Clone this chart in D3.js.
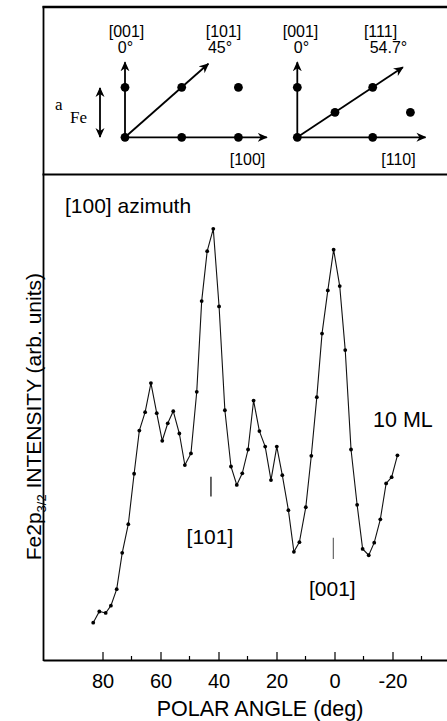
<!DOCTYPE html>
<html>
<head>
<meta charset="utf-8">
<script src="https://cdn.jsdelivr.net/npm/d3@7"></script>
<style>
  html, body { margin: 0; padding: 0; background: #fff; }
  svg { display: block; font-family: Arial, "Liberation Sans", Helvetica, sans-serif; }
</style>
</head>
<body>
<article></article>
<script>
  // Data
  // polar angle of each measured point (deg), from high to low angle
  const polarAngles = [
    83.2, 81.1, 78.9, 77.1, 75.1, 73.2, 71.1, 69.1, 67.3, 65.3,
    63.3, 61.3, 59.4, 57.5, 55.6, 53.5, 51.6, 49.5, 47.5, 45.8,
    43.9, 41.8, 39.8, 37.8, 35.7, 33.7, 31.8, 29.8, 27.9, 25.9,
    23.9, 21.9, 19.9, 18.0, 15.9, 14.0, 12.1, 9.9, 8.0, 6.1,
    4.3, 2.3, 0.3, -1.8, -3.7, -5.7, -7.8, -9.7, -11.8, -13.7,
    -15.8, -17.8, -19.7, -21.7
  ];
  // Fe2p3/2 intensity (arb. units)
  const intensities = [
    7.7, 10.0, 9.7, 11.2, 14.6, 22.1, 28.0, 38.4, 47.3, 51.1,
    57.1, 50.9, 45.2, 48.8, 51.3, 46.7, 40.2, 42.6, 55.3, 74.0,
    84.3, 88.9, 72.9, 51.5, 39.9, 36.1, 38.5, 43.4, 53.5, 47.2,
    44.0, 37.1, 44.0, 38.1, 30.9, 22.3, 24.3, 31.5, 42.1, 54.2,
    67.3, 76.2, 84.6, 77.1, 63.9, 43.4, 32.0, 22.9, 21.6, 24.2,
    29.0, 36.4, 37.7, 42.2
  ];
  const xTicks = [80, 60, 40, 20, 0, -20];
  const xMinorTicks = [70, 50, 30, 10, -10, -30];

  // crystal directions marked under the curve
  const dirLabels = ['[101]', '[001]'];
  const dirAngles = [42.6, 0.4];
  const dirMarkTop = [37.8, 25.2];
  const dirMarkBottom = [33.7, 20.8];

  // inset lattice sketches, in lattice units
  const bccDots = [[0, 0], [1, 0], [2, 0], [0, 1], [1, 1], [2, 1]];
  const bccArrows = [[0, 1.5], [2.5, 0], [1.47, 1.47]];
  const diagDots = [[0, 0], [2, 0], [0, 2], [1, 1], [2, 2], [3, 1]];
  const diagArrows = [[0, 3], [3.4, 0], [2.8, 2.8]];

  window.addEventListener('DOMContentLoaded', () => {
    const WIDTH = 447;
    const HEIGHT = 721;
    const LEFT = 43.5;
    const AXIS_Y = 660;
    const PLOT_TOP = 175;

    const svg = d3
      .select('article')
      .append('svg')
      .attr('width', WIDTH)
      .attr('height', HEIGHT)
      .attr('viewBox', `0 0 ${WIDTH} ${HEIGHT}`);

    svg
      .append('defs')
      .append('marker')
      .attr('id', 'head')
      .attr('viewBox', '0 0 10 10')
      .attr('refX', 9)
      .attr('refY', 5)
      .attr('markerWidth', 10)
      .attr('markerHeight', 10)
      .attr('markerUnits', 'userSpaceOnUse')
      .attr('orient', 'auto-start-reverse')
      .append('path')
      .attr('d', 'M0,0.5 L10,5 L0,9.5 L3,5 Z')
      .attr('fill', '#000');

    // scales
    const x = d3.scaleLinear().domain([100, -40]).range([44.5, 450.5]);
    const y = d3.scaleLinear().domain([0, 100]).range([AXIS_Y, PLOT_TOP]);

    // frame
    svg.append('line')
      .attr('x1', LEFT - 1).attr('x2', WIDTH).attr('y1', 7).attr('y2', 7)
      .attr('stroke', '#000').attr('stroke-width', 2.4);
    svg.append('line')
      .attr('x1', LEFT - 1).attr('x2', WIDTH).attr('y1', 174.5).attr('y2', 174.5)
      .attr('stroke', '#000').attr('stroke-width', 2);
    svg.append('line')
      .attr('x1', LEFT).attr('x2', LEFT).attr('y1', 6).attr('y2', AXIS_Y + 1)
      .attr('stroke', '#000').attr('stroke-width', 1.8);

    // x axis
    const xAxis = svg
      .append('g')
      .attr('transform', `translate(0,${AXIS_Y})`)
      .call(
        d3.axisBottom(x)
          .tickValues(xTicks)
          .tickSizeInner(-8)
          .tickSizeOuter(0)
          .tickPadding(14)
          .tickFormat((d) => String(d))
      );
    xAxis.select('.domain').attr('d', `M${LEFT},0.5H${WIDTH}`).attr('stroke-width', 1.8);
    xAxis.selectAll('.tick line').attr('stroke-width', 1.2);
    xAxis.selectAll('.tick text')
      .attr('font-size', 20)
      .attr('font-family', 'Arial, "Liberation Sans", sans-serif')
      .attr('fill', '#000')
      .attr('dy', '0.72em');

    svg.append('g')
      .selectAll('line')
      .data(xMinorTicks)
      .join('line')
      .attr('x1', (d) => x(d)).attr('x2', (d) => x(d))
      .attr('y1', AXIS_Y).attr('y2', AXIS_Y - 4)
      .attr('stroke', '#000').attr('stroke-width', 1.2);

    svg.append('text')
      .attr('x', 260).attr('y', 716)
      .attr('text-anchor', 'middle')
      .attr('font-size', 21.5)
      .text('POLAR ANGLE (deg)');

    // y label
    const yLabel = svg.append('text')
      .attr('transform', 'translate(41,273) rotate(-90)')
      .attr('text-anchor', 'end')
      .attr('font-size', 21);
    yLabel.append('tspan').text('Fe2p');
    yLabel.append('tspan').attr('font-size', 13).attr('dy', 5).text('3/2');
    yLabel.append('tspan').attr('dy', -5).text(' INTENSITY (arb. units)');

    // curve
    const points = polarAngles.map((a, i) => [a, intensities[i]]);
    const line = d3.line().x((d) => x(d[0])).y((d) => y(d[1]));

    svg.append('path')
      .datum(points)
      .attr('d', line)
      .attr('fill', 'none')
      .attr('stroke', '#111')
      .attr('stroke-width', 1.1);

    svg.append('g')
      .selectAll('circle')
      .data(points)
      .join('circle')
      .attr('cx', (d) => x(d[0]))
      .attr('cy', (d) => y(d[1]))
      .attr('r', 1.9)
      .attr('fill', '#000');

    // direction marks
    const labelGap = [47, 37];
    const marks = svg.append('g')
      .selectAll('g')
      .data(dirLabels.map((l, i) => ({ label: l, angle: dirAngles[i], top: dirMarkTop[i], bottom: dirMarkBottom[i] })))
      .join('g');
    marks.append('line')
      .attr('x1', (d) => x(d.angle)).attr('x2', (d) => x(d.angle))
      .attr('y1', (d) => y(d.top)).attr('y2', (d) => y(d.bottom))
      .attr('stroke', (d, i) => (i === 0 ? '#000' : '#666'))
      .attr('stroke-width', 1.2);
    marks.append('text')
      .attr('x', (d) => x(d.angle) - 1)
      .attr('y', (d, i) => y(d.bottom) + labelGap[i])
      .attr('text-anchor', 'middle')
      .attr('font-size', 21)
      .text((d) => d.label);

    svg.append('text')
      .attr('x', 65).attr('y', 213)
      .attr('font-size', 21)
      .text('[100] azimuth');

    svg.append('text')
      .attr('x', 373).attr('y', 427)
      .attr('font-size', 21.5)
      .text('10 ML');

    // inset: lattice sketches
    function sketch(dots, arrows, sx, sy) {
      const g = svg.append('g');
      g.selectAll('line')
        .data(arrows)
        .join('line')
        .attr('x1', sx(0)).attr('y1', sy(0))
        .attr('x2', (d) => sx(d[0])).attr('y2', (d) => sy(d[1]))
        .attr('stroke', '#000')
        .attr('stroke-width', 1.8)
        .attr('marker-end', 'url(#head)');
      g.selectAll('circle')
        .data(dots)
        .join('circle')
        .attr('cx', (d) => sx(d[0]))
        .attr('cy', (d) => sy(d[1]))
        .attr('r', 4.4)
        .attr('fill', '#000');
    }

    sketch(
      bccDots, bccArrows,
      d3.scaleLinear().domain([0, 1]).range([125, 181.7]),
      d3.scaleLinear().domain([0, 1]).range([137.3, 87.3])
    );
    sketch(
      diagDots, diagArrows,
      d3.scaleLinear().domain([0, 1]).range([297.3, 335]),
      d3.scaleLinear().domain([0, 1]).range([137.3, 112.3])
    );

    // a_Fe double arrow
    svg.append('line')
      .attr('x1', 100).attr('x2', 100).attr('y1', 88).attr('y2', 137)
      .attr('stroke', '#000').attr('stroke-width', 1.8)
      .attr('marker-start', 'url(#head)')
      .attr('marker-end', 'url(#head)');
    svg.append('text')
      .attr('x', 55).attr('y', 110)
      .attr('font-family', '"Liberation Serif", "Times New Roman", serif')
      .attr('font-size', 17)
      .text('a');
    svg.append('text')
      .attr('x', 70).attr('y', 123)
      .attr('font-family', '"Liberation Serif", "Times New Roman", serif')
      .attr('font-size', 17)
      .text('Fe');

    const insetLabels = [
      ['[001]', 126.5, 37], ['0°', 125.5, 53], ['[101]', 223.5, 37], ['45°', 220, 53], ['[100]', 247.5, 165],
      ['[001]', 300.5, 37], ['0°', 301.5, 53], ['[111]', 380.5, 37], ['54.7°', 388.5, 53], ['[110]', 398.5, 165]
    ];
    svg.append('g')
      .selectAll('text')
      .data(insetLabels)
      .join('text')
      .attr('x', (d) => d[1])
      .attr('y', (d) => d[2])
      .attr('text-anchor', 'middle')
      .attr('font-size', 16)
      .text((d) => d[0]);
  });
</script>
</body>
</html>
